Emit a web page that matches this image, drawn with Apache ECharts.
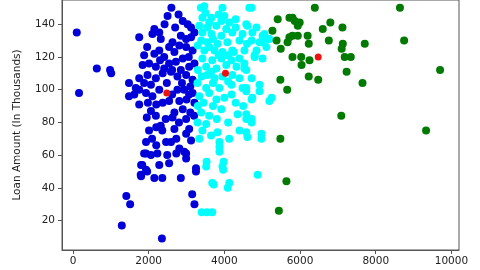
<!DOCTYPE html>
<html>
<head>
<meta charset="utf-8">
<script src="https://cdn.jsdelivr.net/npm/echarts@6/dist/echarts.min.js"></script>
<style>html,body{margin:0;padding:0;background:#fff}#c{width:480px;height:270px}</style>
</head>
<body>
<div id="c"></div>
<script>
const xTicks = [0, 2000, 4000, 6000, 8000, 10000];
const yTicks = [20, 40, 60, 80, 100, 120, 140];
const yAxisTitle = 'Loan Amount (In Thousands)';

const cluster0 = [
[100,135],[160,98],[630,113],[980,112],[1010,110],[1480,104],[1480,96],[1620,97],[1750,100],[1750,91],[1660,101],
[2600,150],[2500,145],[2790,146],[2900,142],[3030,140],[3120,138],[3210,135],[2150,137],[1750,132],[2100,134],[2280,135],[2320,131],[2630,129],[2850,133],[2990,131],[3120,132],[2420,140],[2700,138],
[1880,121],[2280,124],[2540,126],[2680,123],[2810,127],[2990,126],[3160,124],[2410,120],[1960,126],[2150,122],[3060,120],
[1840,115],[2010,116],[2190,114],[2410,113],[2540,116],[2720,117],[2900,119],[3070,114],[3210,116],[2300,118],[2620,112],[2850,112],
[1750,107],[1970,109],[2190,107],[2370,110],[2590,111],[2760,108],[2990,109],[3160,106],[1880,104],[2060,103],[2480,104],[2880,104],[3100,102],
[1930,98],[2100,96],[2280,100],[2760,100],[2940,100],[3070,97],[3160,98],[2540,93],[2810,93],[2370,92],[2620,97],[2200,91],[1980,92],[3000,94],[3210,92],
[2060,87],[2190,84],[2680,86],[2990,82],[2630,83],[2320,78],[2900,88],[3100,86],[1950,83],[2450,82],[3200,84],[2800,80],
[2360,75],[2010,75],[3070,76],[2990,73],[2200,77],[2680,76],
[1930,68],[2090,70],[2200,66],[2460,68],[2590,68],[2730,70],[2810,64],[3120,69],
[1880,61],[1930,61],[2060,60],[2230,61],[2490,60],[2730,61],[2990,61],[2940,62],
[2990,58],[2540,55],[2280,54],[1830,54],[1800,54],[1930,51],[3250,52],
[1790,48],[1960,50],[1800,47],[2150,46],[2360,46],[2850,46],[3250,50],
[1410,35],[1510,30],[3150,36],[3210,30],[1290,17],[2350,9]
];

const cluster1 = [
[3380,150],[3470,151],[3950,150],[4720,150],[4660,150],[3420,144],[3660,144],[3920,142],[4130,141],[3340,139],[3550,138],[3790,139],[4050,137],[4580,140],[4610,139],[4850,138],
[3420,135],[3660,134],[3920,133],[4210,135],[4480,134],[4740,135],[5060,134],[5010,133],[5190,131],[5140,131],[3390,130],[3550,129],[3820,128],[4080,129],[4400,130],[4720,130],[4980,129],[4930,129],
[3470,124],[3740,124],[3950,123],[4210,124],[4530,124],[4850,124],[5110,126],[3420,119],[3680,118],[3920,119],[4190,118],[4400,119],[4800,120],[4800,121],[5010,119],[4530,116],
[3520,114],[3790,113],[4050,115],[4320,114],[4530,113],[4580,112],[4720,107],[3550,109],[3740,107],[4210,109],[4400,107],[3290,104],[3520,101],[3870,101],[4190,103],[4480,101],[4930,103],[4580,101],
[3340,96],[3600,98],[3790,94],[4190,97],[4580,99],[4930,99],[4720,94],[4740,95],[5190,93],[5250,95],[3390,86],[3920,88],[4350,85],[4580,85],[4580,82],[4720,80],[4720,82],[3290,80],[3520,79],
[3420,75],[3820,74],[4580,74],[4980,73],[3340,70],[4130,70],[4610,71],[4980,70],[3870,68],[3870,65],[3870,62],[3530,56],[3980,56],[3520,53],[3950,53],[3970,51],[4880,48],
[3720,42],[3680,43],[4130,43],[4090,40],[3400,25],[3540,25],[3680,25],
[3500,147],[3600,141],[3850,146],[4000,145],[4300,143],[3700,131],[3300,127],[3600,126],[3850,121],[4100,121],[3300,112],[3650,111],[3950,108],[4100,105],[3400,108],[3700,104],
[3450,92],[3700,90],[3300,90],[4000,95],[4300,92],[3600,84],[3800,82],[4100,80],[4500,90],[4400,75],[3650,72],[4250,123],[4600,128],[4300,138]
];

const cluster2 = [
[6390,150],[8640,150],[5410,143],[5720,144],[5800,144],[5860,142],[5990,141],[5940,139],[6800,141],[6600,137],[7120,138],[5270,136],[5800,133],[5720,132],[5940,133],[6200,133],
[5380,130],[5670,129],[6230,128],[6760,130],[7130,128],[7100,125],[7710,128],[8750,130],[5490,125],[5800,120],[6030,120],[6250,118],[7180,120],[7340,120],[6040,115],[7230,111],
[9700,112],[6230,108],[5480,106],[6480,106],[7650,104],[5660,100],[7090,84],[9330,75],[5480,70],[5640,44],[5440,26]
];

const centroids = [[2480,98],[4030,110],[6480,120]];

const font = 'DejaVu Sans';
const chart = echarts.init(document.getElementById('c'), null, {renderer: 'canvas'});
const mk = (data, color, size) => ({
  type: 'scatter', data: data, symbol: 'circle', symbolSize: size,
  itemStyle: {color: color, opacity: 1},
  emphasis: {disabled: true}, silent: true
});
chart.setOption({
  animation: false,
  backgroundColor: '#ffffff',
  grid: {left: 62, right: 21, top: -1, bottom: 20, containLabel: false,
         show: true, borderColor: '#555', borderWidth: 1, backgroundColor: 'transparent'},
  xAxis: {
    type: 'value', min: -290, max: 10200,
    splitLine: {show: false},
    axisLine: {show: true, onZero: false, lineStyle: {color: '#555', width: 1}},
    axisTick: {show: true, length: 4, customValues: xTicks, lineStyle: {color: '#555'}},
    axisLabel: {customValues: xTicks, formatter: (v) => String(v), color: '#222', fontFamily: font, fontSize: 10.5, margin: 6}
  },
  yAxis: {
    type: 'value', min: 2, max: 154.8,
    name: yAxisTitle, nameLocation: 'middle', nameGap: 39,
    nameTextStyle: {color: '#222', fontFamily: font, fontSize: 10.5},
    splitLine: {show: false},
    axisLine: {show: true, onZero: false, lineStyle: {color: '#555', width: 1}},
    axisTick: {show: true, length: 4, customValues: yTicks, lineStyle: {color: '#555'}},
    axisLabel: {customValues: yTicks, formatter: (v) => String(v), color: '#222', fontFamily: font, fontSize: 10.5, margin: 7}
  },
  series: [
    mk(cluster0, '#0000d8', 8),
    mk(cluster1, '#00ffff', 8),
    mk(cluster2, '#007a00', 8),
    mk(centroids, '#ee1111', 7)
  ]
});
</script>
</body>
</html>
